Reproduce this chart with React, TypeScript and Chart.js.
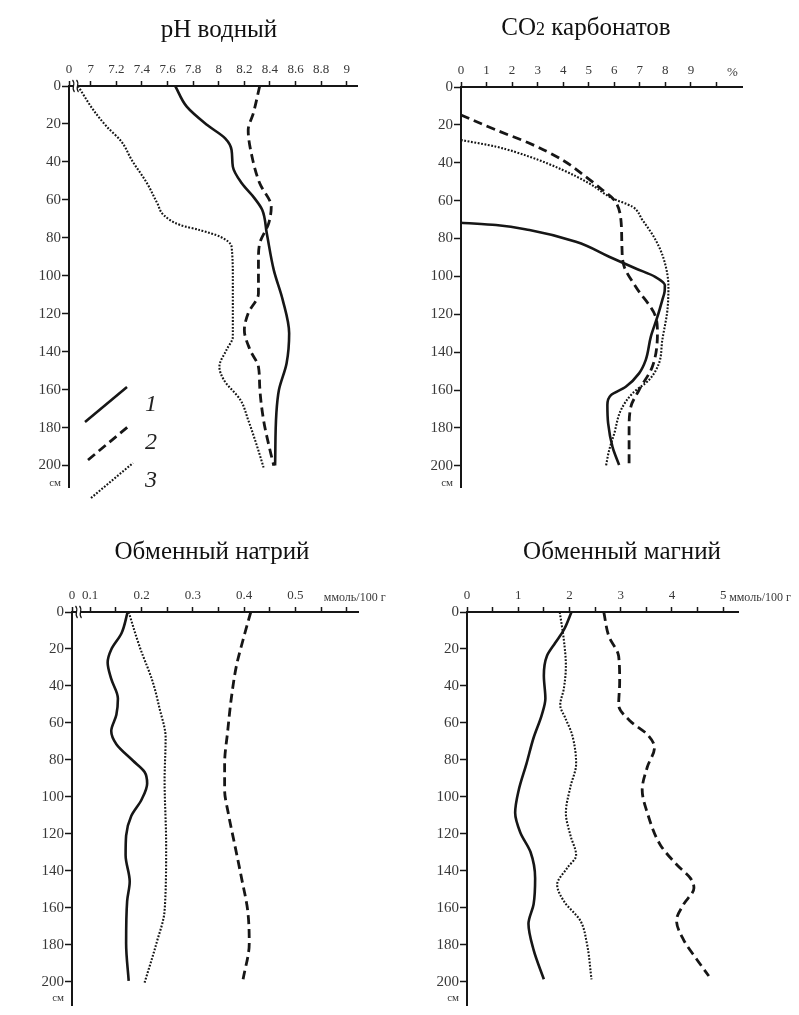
import React, { useEffect, useRef } from 'react';
import { Chart, registerables } from 'chart.js';

Chart.register(...registerables);

const FONT = '"Liberation Serif", "Times New Roman", serif';
const INK = '#161616';
const LABEL = '#383838';

// ---------- depth axis (shared) ----------
const depthTicks = [0, 20, 40, 60, 80, 100, 120, 140, 160, 180, 200];
const depthUnitLabel = 'см';
const depthUnitPos = 209;

// ---------- pH водный ----------
const phTicks = [6.83, 7, 7.2, 7.4, 7.6, 7.8, 8, 8.2, 8.4, 8.6, 8.8, 9];
const phTickLabels = ['0', '7', '7.2', '7.4', '7.6', '7.8', '8', '8.2', '8.4', '8.6', '8.8', '9'];
const phDepth1 = [0, 10.9, 20.6, 27.6, 33.7, 42.5, 51.3, 59.2, 65.3, 77.6, 97, 112.8, 130.3, 146.1, 160.2, 172.5, 200];
const phValue1 = [7.66, 7.75, 7.91, 8.05, 8.1, 8.11, 8.18, 8.28, 8.34, 8.375, 8.43, 8.5, 8.55, 8.53, 8.47, 8.45, 8.44];
const phDepth2 = [0, 14.4, 23.2, 37.3, 51.3, 63.6, 72.4, 82.9, 91.7, 109.3, 119.8, 128.6, 139.1, 147.9, 158.5, 176, 191.8, 200];
const phValue2 = [8.32, 8.27, 8.23, 8.26, 8.32, 8.41, 8.39, 8.32, 8.31, 8.31, 8.23, 8.2, 8.245, 8.31, 8.32, 8.35, 8.4, 8.43];
const phDepth3 = [0, 12.6, 21.4, 29.3, 39, 51.3, 61.8, 68, 73.3, 75.9, 79.4, 84.7, 102.2, 132.1, 139.1, 147.9, 154.9, 165.5, 176, 190, 201];
const phValue3 = [6.9, 7.02, 7.125, 7.24, 7.32, 7.44, 7.52, 7.57, 7.7, 7.85, 8.01, 8.1, 8.11, 8.11, 8.06, 8.005, 8.04, 8.17, 8.23, 8.3, 8.35];

// ---------- CO2 карбонатов ----------
const co2Ticks = [0, 1, 2, 3, 4, 5, 6, 7, 8, 9, 10];
const co2TickLabels = ['0', '1', '2', '3', '4', '5', '6', '7', '8', '9', ''];
const co2Depth1 = [71.7, 72.9, 75.5, 81.7, 89.6, 95.8, 100.2, 104.6, 108, 112.5, 121.3, 131.9, 144.2, 151.2, 158.3, 162.7, 167.9, 177.6, 190, 199.6];
const co2Value1 = [0, 1.37, 2.68, 4.5, 5.8, 6.84, 7.6, 7.98, 7.97, 7.88, 7.69, 7.43, 7.23, 6.97, 6.45, 5.87, 5.73, 5.76, 5.93, 6.19];
const co2Depth2 = [14.8, 22.7, 29.7, 38.6, 47.4, 54.4, 59.7, 70.2, 84.3, 94.9, 105.5, 121.3, 130.1, 147.7, 160, 168.8, 181.1, 200.5];
const co2Value2 = [0, 1.37, 2.68, 3.98, 4.89, 5.54, 6.0, 6.26, 6.3, 6.39, 6.84, 7.62, 7.69, 7.49, 6.97, 6.65, 6.58, 6.58];
const co2Depth3 = [28, 31.5, 36.8, 43.8, 50.9, 58.8, 63.2, 70.2, 80.8, 91.4, 105.5, 117.8, 133.6, 145.9, 154.7, 161.8, 170.6, 182.9, 191.7, 200.5];
const co2Value3 = [0, 1.37, 2.68, 3.98, 5.02, 5.93, 6.71, 7.1, 7.62, 7.95, 8.12, 8.08, 7.88, 7.75, 7.36, 6.71, 6.26, 6.0, 5.8, 5.67];

// ---------- Обменный натрий ----------
const naTicks = [0.0645, 0.1, 0.15, 0.2, 0.25, 0.3, 0.35, 0.4, 0.45, 0.5, 0.55, 0.6];
const naTickLabels = ['0', '0.1', '', '0.2', '', '0.3', '', '0.4', '', '0.5', '', ''];
const naDepth1 = [0, 11.5, 20.3, 27.3, 36.2, 46.8, 55.6, 64.4, 71.5, 80.3, 86.5, 92.7, 101.5, 110.3, 120.9, 131.5, 145.7, 156.3, 179.2, 199.5];
const naValue1 = [0.173, 0.161, 0.141, 0.134, 0.141, 0.154, 0.151, 0.141, 0.151, 0.183, 0.206, 0.211, 0.2, 0.18, 0.17, 0.169, 0.177, 0.172, 0.17, 0.175];
const naDepth2 = [0, 15, 29.1, 46.8, 64.4, 82.1, 96.2, 108.6, 126.2, 143.9, 161.5, 179.2, 198.6];
const naValue2 = [0.413, 0.398, 0.385, 0.375, 0.368, 0.362, 0.362, 0.369, 0.382, 0.395, 0.407, 0.41, 0.398];
const naDepth3 = [0, 18.5, 37.9, 52, 68, 90.9, 126.2, 161.5, 179.2, 200.4];
const naValue3 = [0.175, 0.196, 0.222, 0.235, 0.247, 0.245, 0.248, 0.245, 0.229, 0.206];

// ---------- Обменный магний ----------
const mgTicks = [0, 0.5, 1, 1.5, 2, 2.5, 3, 3.5, 4, 4.5, 5];
const mgTickLabels = ['0', '', '1', '', '2', '', '3', '', '4', '', '5'];
const mgDepth1 = [0, 9.7, 16.8, 23.8, 34.4, 46.8, 55.6, 68, 82.1, 96.2, 108.6, 119.2, 129.8, 143.9, 158, 168.6, 182.7, 198.6];
const mgValue1 = [2.04, 1.89, 1.72, 1.56, 1.5, 1.53, 1.46, 1.3, 1.16, 1.01, 0.94, 1.04, 1.24, 1.33, 1.3, 1.2, 1.3, 1.5];
const mgDepth2 = [0, 13.2, 23.8, 37.9, 50.3, 59.1, 66.2, 73.3, 83.8, 96.2, 108.6, 126.2, 136.8, 143.9, 149.2, 158, 166.8, 177.4, 188, 196.8];
const mgValue2 = [2.67, 2.77, 2.96, 2.98, 2.96, 3.19, 3.52, 3.66, 3.52, 3.42, 3.52, 3.78, 4.1, 4.36, 4.43, 4.23, 4.09, 4.23, 4.49, 4.72];
const mgDepth3 = [0, 15, 29.1, 41.5, 50.3, 57.4, 66.2, 82.1, 94.4, 108.6, 120.9, 131.5, 138.6, 147.4, 156.3, 166.8, 179.2, 198.6];
const mgValue3 = [1.81, 1.89, 1.93, 1.89, 1.82, 1.92, 2.05, 2.13, 2.02, 1.93, 2.02, 2.13, 1.95, 1.76, 1.89, 2.21, 2.34, 2.43];

const legendLabels = ['1', '2', '3'];

type Style = 'solid' | 'dashed' | 'dotted';

const STYLES: Record<Style, { width: number; dash: number[] }> = {
  solid: { width: 2.6, dash: [] },
  dashed: { width: 2.8, dash: [9, 5] },
  dotted: { width: 2.1, dash: [1.8, 1.6] },
};

interface Spec {
  left: number; top: number; w: number; h: number;
  yAxisWidth: number; xAxisHeight: number; padRight: number; padBottom: number;
  xMin: number; xMax: number; yMax: number;
  xTicks: number[]; xLabels: string[];
  series: { depths: number[]; values: number[]; style: Style }[];
  title: { t: string; s: number }[]; titleX: number; titleY: number;
  unit?: { text: string; value: number; dx: number; align: CanvasTextAlign; size: number };
  breakMark?: boolean;
  legend?: boolean;
}

const specs: Spec[] = [
  {
    left: 0, top: 0, w: 400, h: 507,
    yAxisWidth: 69, xAxisHeight: 86, padRight: 43, padBottom: 20,
    xMin: 6.83, xMax: 9.08, yMax: 211.3,
    xTicks: phTicks, xLabels: phTickLabels,
    series: [
      { depths: phDepth1, values: phValue1, style: 'solid' },
      { depths: phDepth2, values: phValue2, style: 'dashed' },
      { depths: phDepth3, values: phValue3, style: 'dotted' },
    ],
    title: [{ t: 'pH водный', s: 25 }], titleX: 219, titleY: 37,
    breakMark: true, legend: true,
  },
  {
    left: 400, top: 0, w: 399, h: 507,
    yAxisWidth: 61, xAxisHeight: 87, padRight: 57, padBottom: 20,
    xMin: 0, xMax: 11, yMax: 211.2,
    xTicks: co2Ticks, xLabels: co2TickLabels,
    series: [
      { depths: co2Depth1, values: co2Value1, style: 'solid' },
      { depths: co2Depth2, values: co2Value2, style: 'dashed' },
      { depths: co2Depth3, values: co2Value3, style: 'dotted' },
    ],
    title: [{ t: 'CO', s: 25 }, { t: '2', s: 18 }, { t: ' карбонатов', s: 25 }], titleX: 186, titleY: 35,
    unit: { text: '%', value: 10, dx: 16, align: 'center', size: 13 },
  },
  {
    left: 0, top: 507, w: 400, h: 508,
    yAxisWidth: 72, xAxisHeight: 105, padRight: 42, padBottom: 2,
    xMin: 0.0645, xMax: 0.622, yMax: 212.5,
    xTicks: naTicks, xLabels: naTickLabels,
    series: [
      { depths: naDepth1, values: naValue1, style: 'solid' },
      { depths: naDepth2, values: naValue2, style: 'dashed' },
      { depths: naDepth3, values: naValue3, style: 'dotted' },
    ],
    title: [{ t: 'Обменный натрий', s: 25 }], titleX: 212, titleY: 52,
    unit: { text: 'ммоль/100 г', value: 0.6, dx: 8, align: 'center', size: 12 },
    breakMark: true,
  },
  {
    left: 400, top: 507, w: 399, h: 508,
    yAxisWidth: 67, xAxisHeight: 105, padRight: 61, padBottom: 2,
    xMin: 0, xMax: 5.29, yMax: 212.5,
    xTicks: mgTicks, xLabels: mgTickLabels,
    series: [
      { depths: mgDepth1, values: mgValue1, style: 'solid' },
      { depths: mgDepth2, values: mgValue2, style: 'dashed' },
      { depths: mgDepth3, values: mgValue3, style: 'dotted' },
    ],
    title: [{ t: 'Обменный магний', s: 25 }], titleX: 222, titleY: 52,
    unit: { text: 'ммоль/100 г', value: 5, dx: 6, align: 'left', size: 12 },
  },
];

const X_TICK_LEN = 5;
const X_TICK_PAD = 4;

function makeDecor(spec: Spec) {
  return {
    id: 'decor',
    afterDraw(chart: any) {
      const ctx: CanvasRenderingContext2D = chart.ctx;
      const area = chart.chartArea;
      const xs = chart.scales.x;
      ctx.save();
      // title
      ctx.fillStyle = '#111';
      ctx.textBaseline = 'alphabetic';
      ctx.textAlign = 'left';
      let total = 0;
      for (const p of spec.title) {
        ctx.font = `${p.s}px ${FONT}`;
        total += ctx.measureText(p.t).width;
      }
      let x = spec.titleX - total / 2;
      for (const p of spec.title) {
        ctx.font = `${p.s}px ${FONT}`;
        ctx.fillText(p.t, x, spec.titleY);
        x += ctx.measureText(p.t).width;
      }
      // unit text on x axis
      if (spec.unit) {
        const u = spec.unit;
        ctx.font = `${u.size}px ${FONT}`;
        ctx.fillStyle = LABEL;
        ctx.textAlign = u.align;
        ctx.textBaseline = 'bottom';
        ctx.fillText(u.text, xs.getPixelForValue(u.value) + u.dx, area.top - X_TICK_LEN - X_TICK_PAD + 1);
      }
      // axis break mark
      if (spec.breakMark) {
        const bx = xs.getPixelForValue(spec.xMin) + 6;
        const by = area.top;
        ctx.fillStyle = '#fff';
        ctx.fillRect(bx - 1, by - 2, 4, 4);
        ctx.strokeStyle = INK;
        ctx.lineWidth = 1.2;
        for (const off of [-1.5, 2.5]) {
          ctx.beginPath();
          ctx.moveTo(bx + off - 1, by - 6);
          ctx.bezierCurveTo(bx + off + 3, by - 2, bx + off - 3, by + 2, bx + off + 1, by + 6);
          ctx.stroke();
        }
      }
      // legend
      if (spec.legend) {
        const styles: Style[] = ['solid', 'dashed', 'dotted'];
        const base = area.bottom;
        styles.forEach((st, i) => {
          const y0 = base - 65 + i * 38;
          const x0 = area.left + 16 + i * 3;
          ctx.strokeStyle = INK;
          ctx.lineWidth = STYLES[st].width;
          ctx.setLineDash(STYLES[st].dash);
          ctx.beginPath();
          ctx.moveTo(x0, y0);
          ctx.lineTo(x0 + 42, y0 - 35);
          ctx.stroke();
          ctx.setLineDash([]);
          ctx.fillStyle = '#222';
          ctx.font = `italic 24px ${FONT}`;
          ctx.textAlign = 'center';
          ctx.textBaseline = 'middle';
          ctx.fillText(legendLabels[i], area.left + 82, y0 - 17);
        });
      }
      ctx.restore();
    },
  };
}

function buildConfig(spec: Spec): any {
  const yVals = [...depthTicks, depthUnitPos];
  const yLabels = [...depthTicks.map(String), depthUnitLabel];
  return {
    type: 'scatter',
    data: {
      datasets: spec.series.map((s) => ({
        data: s.depths.map((d, i) => ({ x: s.values[i], y: d })),
        showLine: true,
        borderColor: INK,
        borderWidth: STYLES[s.style].width,
        borderDash: STYLES[s.style].dash,
        borderCapStyle: 'butt',
        pointRadius: 0,
        pointHoverRadius: 0,
        cubicInterpolationMode: 'monotone',
        fill: false,
      })),
    },
    options: {
      indexAxis: 'y',
      responsive: false,
      animation: false,
      events: [],
      layout: { padding: { left: 0, top: 0, right: spec.padRight, bottom: spec.padBottom } },
      plugins: { legend: { display: false }, tooltip: { enabled: false }, title: { display: false } },
      scales: {
        x: {
          type: 'linear',
          position: 'top',
          min: spec.xMin,
          max: spec.xMax,
          afterBuildTicks: (s: any) => { s.ticks = spec.xTicks.map((v) => ({ value: v })); },
          afterFit: (s: any) => { s.height = spec.xAxisHeight; },
          ticks: {
            autoSkip: false,
            maxRotation: 0,
            minRotation: 0,
            padding: X_TICK_PAD,
            color: LABEL,
            font: { family: FONT, size: 13 },
            callback: (_v: any, i: number) => spec.xLabels[i],
          },
          grid: { drawOnChartArea: false, drawTicks: true, tickLength: X_TICK_LEN, tickWidth: 1.5, tickColor: INK },
          border: { display: true, color: INK, width: 2 },
        },
        y: {
          type: 'linear',
          position: 'left',
          reverse: true,
          min: 0,
          max: spec.yMax,
          afterBuildTicks: (s: any) => { s.ticks = yVals.map((v) => ({ value: v })); },
          afterFit: (s: any) => { s.width = spec.yAxisWidth; },
          ticks: {
            autoSkip: false,
            padding: 1,
            color: LABEL,
            font: (c: any) => ({ family: FONT, size: c.tick && c.tick.value === depthUnitPos ? 11 : 15 }),
            callback: (_v: any, i: number) => yLabels[i],
          },
          grid: {
            drawOnChartArea: false,
            drawTicks: true,
            tickLength: 7,
            tickWidth: 1.5,
            tickColor: (c: any) => (c.tick && c.tick.value === depthUnitPos ? 'rgba(0,0,0,0)' : INK),
          },
          border: { display: true, color: INK, width: 2 },
        },
      },
    },
    plugins: [makeDecor(spec)],
  };
}

function Panel({ spec }: { spec: Spec }) {
  const ref = useRef<HTMLCanvasElement>(null);
  useEffect(() => {
    if (!ref.current) return;
    const chart = new Chart(ref.current, buildConfig(spec));
    return () => chart.destroy();
  }, [spec]);
  return (
    <canvas
      ref={ref}
      width={spec.w}
      height={spec.h}
      style={{ position: 'absolute', left: spec.left, top: spec.top, width: spec.w, height: spec.h, display: 'block' }}
    />
  );
}

export default function App() {
  return (
    <div style={{ position: 'absolute', left: 0, top: 0, width: 799, height: 1015, background: '#fff', overflow: 'hidden' }}>
      {specs.map((s, i) => (
        <Panel key={i} spec={s} />
      ))}
    </div>
  );
}
